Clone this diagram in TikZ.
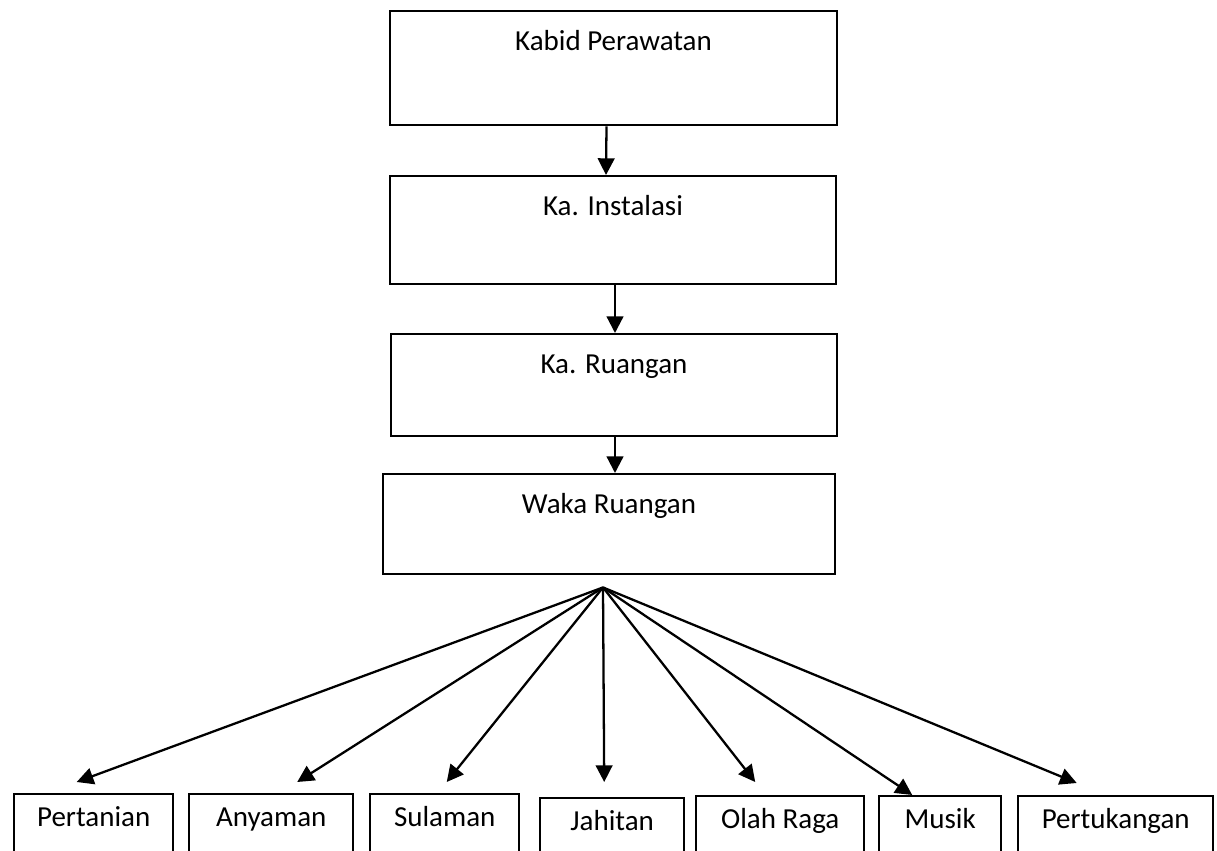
\documentclass[tikz,border=0pt]{standalone}
\usepackage{fontspec}
\setmainfont{Carlito}
\usetikzlibrary{arrows.meta,positioning,calc}

\begin{document}
\begin{tikzpicture}[x=0.02cm, y=-0.02cm, >={Triangle[length=9.5pt,width=9.5pt]}]
\tikzstyle{level}=[draw, line width=1.4pt, font=\fontsize{16.5}{19}\selectfont, rectangle, anchor=north, inner ysep=0.38cm, text height=0.4cm, align=center]
\tikzstyle{unit}=[draw, line width=1.4pt, font=\fontsize{16.5}{19}\selectfont, rectangle, anchor=north west, inner ysep=0.24cm, text height=0.4cm, text depth=0.36cm, align=center]
\tikzstyle{link}=[->, line width=1.3pt]

\useasboundingbox (0,0) rectangle (1217,851);

% chain of command
\node[level, minimum width=8.94cm, text depth=1.12cm] (kabid) at (613.5,10) {Kabid Perawatan};
\node[level, minimum width=8.92cm, text depth=1.00cm] (kainst) at (613,175) {Ka. Instalasi};
\node[level, minimum width=8.92cm, text depth=0.88cm] (karuang) at (614,333) {Ka. Ruangan};
\node[level, minimum width=9.04cm, text depth=0.84cm] (waka) at (609,473) {Waka Ruangan};
\draw[link] ($(kabid.south)+(-7,0)$) -- ($(kainst.north)+(-7,0)$);
\draw[link] ($(kainst.south)+(2,0)$) -- ($(karuang.north)+(1,0)$);
\draw[link] ($(karuang.south)+(1,0)$) -- ($(waka.north)+(6,0)$);

% activities
\node[unit, minimum width=3.18cm] (tani) at (13,793) {Pertanian};
\node[unit, minimum width=3.28cm] (anyam) at (188,793) {Anyaman};
\node[unit, minimum width=2.98cm] (sulam) at (369,793) {Sulaman};
\node[unit, minimum width=2.88cm] (jahit) at (539,797) {Jahitan};
\node[unit, minimum width=3.36cm] (olah) at (695,795) {Olah Raga};
\node[unit, minimum width=2.44cm] (musik) at (878,795) {Musik};
\node[unit, minimum width=3.90cm] (tukang) at (1017,795) {Pertukangan};

\coordinate (hub) at ($(waka.south)+(-6,12)$);
\draw[link] (hub) -- ($(tani.north)+(-17,-11)$);
\draw[link] (hub) -- ($(anyam.north)+(26,-11)$);
\draw[link] (hub) -- ($(sulam.north)+(2,-11)$);
\draw[link] (hub) -- ($(jahit.north)+(-8,-15)$);
\draw[link] (hub) -- ($(olah.north)+(-25,-13)$);
\draw[link] (hub) -- ($(musik.north)+(-28,0)$);
\draw[link] (hub) -- ($(tukang.north)+(-39,-12)$);

\end{tikzpicture}
\end{document}
